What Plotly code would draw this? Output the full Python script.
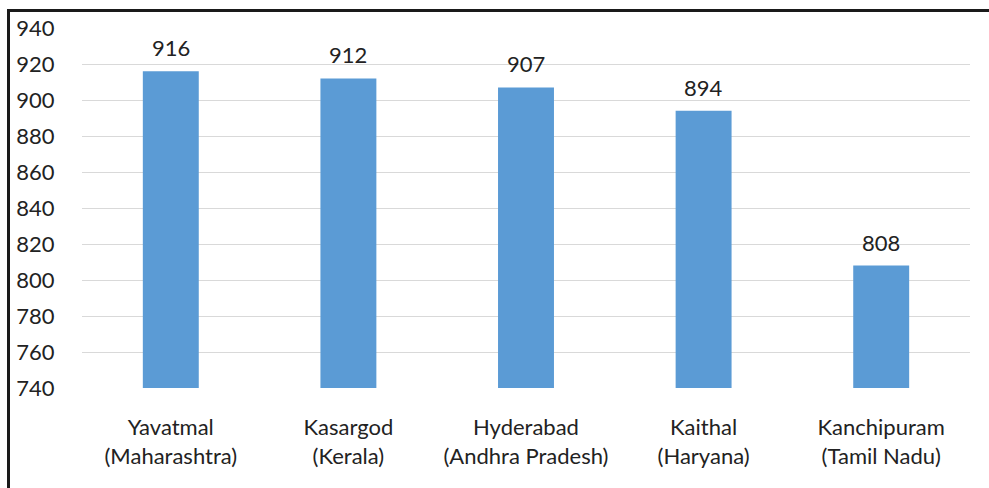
import plotly.graph_objects as go

# District-wise values
districts = ["Yavatmal", "Kasargod", "Hyderabad", "Kaithal", "Kanchipuram"]
states = ["Maharashtra", "Kerala", "Andhra Pradesh", "Haryana", "Tamil Nadu"]
values = [916, 912, 907, 894, 808]
y_ticks = [740, 760, 780, 800, 820, 840, 860, 880, 900, 920, 940]

labels = [f"{d}<br>({s})" for d, s in zip(districts, states)]

FONT = "Lato, 'Noto Sans', sans-serif"
TEXT = "#222222"
BAR = "#5b9bd5"

fig = go.Figure(
    go.Bar(
        x=labels,
        y=values,
        marker=dict(color=BAR, line=dict(width=0)),
        hoverinfo="x+y",
    )
)

# value labels above each bar
for lab, v in zip(labels, values):
    fig.add_annotation(
        x=lab, y=v, text=str(v), showarrow=False,
        yanchor="bottom", yshift=8,
        font=dict(family=FONT, size=22, color=TEXT),
    )

W, H = 989, 488
L, R, T, B = 82, 19, 28, 100
pw, ph = W - L - R, H - T - B


def px_x(p):
    return (p - L) / pw


def px_y(p):
    return (H - B - p) / ph


# frame lines along the top and left edges
fig.add_shape(type="line", xref="paper", yref="paper",
              x0=px_x(7), x1=px_x(995), y0=px_y(10.5), y1=px_y(10.5),
              line=dict(color="#1a1a1a", width=3))
fig.add_shape(type="line", xref="paper", yref="paper",
              x0=px_x(8.5), x1=px_x(8.5), y0=px_y(9), y1=px_y(495),
              line=dict(color="#1a1a1a", width=3))

fig.update_layout(
    width=W, height=H,
    margin=dict(l=L, r=R, t=T, b=B, pad=0),
    paper_bgcolor="white", plot_bgcolor="white",
    bargap=0.685,
    showlegend=False,
    font=dict(family=FONT, color=TEXT),
    xaxis=dict(
        showgrid=False, showline=False, zeroline=False,
        ticks="outside", ticklen=20, tickcolor="rgba(0,0,0,0)",
        tickfont=dict(family=FONT, size=22, color=TEXT),
    ),
    yaxis=dict(
        range=[740, 940],
        tickvals=y_ticks,
        showgrid=True, gridcolor="#d9d9d9", gridwidth=1,
        zeroline=False, showline=False,
        ticks="outside", ticklen=22, tickcolor="rgba(0,0,0,0)",
        tickfont=dict(family=FONT, size=22, color=TEXT),
    ),
)

fig.write_html("out.html")
